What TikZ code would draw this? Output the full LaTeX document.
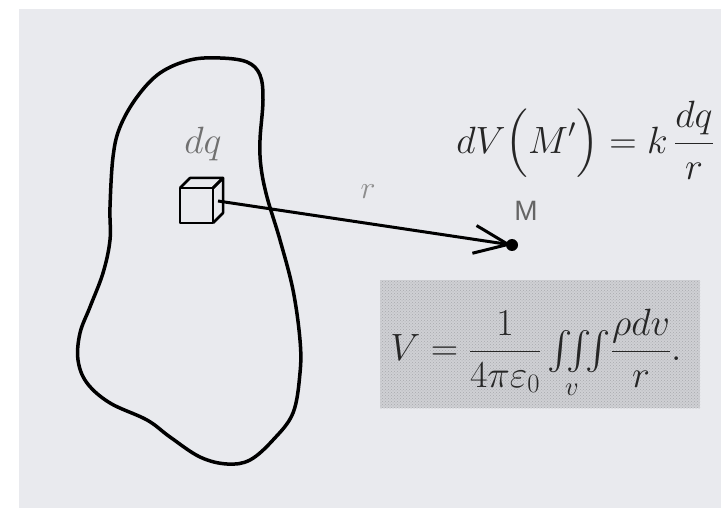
\RequirePackage{fix-cm}
\documentclass[tikz,border=0pt]{standalone}
\usepackage{amsmath}
\DeclareFontShape{OMX}{cmex}{m}{n}{<-> cmex10}{}
\usepackage{fontspec}
\setsansfont{Liberation Sans}
\usetikzlibrary{arrows.meta,patterns}
\definecolor{bgpaper}{HTML}{E9EAEE}
\definecolor{boxfill}{HTML}{CFD0D4}
\definecolor{dotcol}{HTML}{A8A9AD}
\definecolor{inkdark}{HTML}{262626}
\definecolor{inklabel}{HTML}{707070}
\tikzset{
  outline/.style={line width=3.5pt, line join=round},
  cubeline/.style={line width=2.5pt, line join=round},
  lbl/.style={inner sep=0pt, text=inklabel},
  eqn/.style={inner sep=0pt, text=inkdark},
}
\begin{document}
\begin{tikzpicture}[x=1pt,y=-1pt]
\useasboundingbox (0,0) rectangle (721,508);
\fill[white] (0,0) rectangle (721,508);
\fill[bgpaper] (19,9) rectangle (721,508);

% charge distribution outline
\draw[outline] plot[smooth cycle, tension=0.6] coordinates {
 (220,58) (247,62) (260,75) (263,100) (260,140) (261,167) (267,197)
 (280,240) (293,290) (300,340) (300,373) (293,413) (273,440) (250,460)
 (227,464) (200,457) (170,437) (147,420) (110,403) (87,383) (78,360)
 (80,333) (90,307) (103,273) (110,240) (110,207) (113,157) (120,127)
 (137,97) (160,73) (190,60)};

% volume element (cube)
\draw[cubeline, fill=bgpaper] (180,188) rectangle (213,223);
\draw[cubeline] (180,188) -- (190,178) -- (223,178) -- (213,188);
\draw[cubeline] (213,188) -- (223,178) -- (223,213) -- (213,223);
\coordinate (cubeR) at (218,201);

\node[lbl, font=\fontsize{38}{44}\selectfont] (dq) at (203,144) {$dq$};

% point M
\coordinate (Mpt) at (512,245);
\draw[line width=3pt, -{Straight Barb[length=34pt,width=28pt,line width=3pt]}] (cubeR) -- (Mpt);
\fill (Mpt) circle (6);
\node[lbl, text=inklabel!90!black, font=\sffamily\fontsize{28}{32}\selectfont] (M) at (526,211) {M};
\node[lbl, text=inklabel!80!white, font=\fontsize{32}{36}\selectfont] (r) at (368,192) {$r$};

% top formula
\node[eqn, font=\fontsize{38}{44}\selectfont] (eqtop) at (585,140)
  {$\displaystyle dV\Bigl(M'\Bigr)= k\,\frac{dq}{r}$};

% framed integral formula
\fill[boxfill] (380,280) rectangle (700,408);
\fill[pattern=crosshatch dots, pattern color=dotcol] (380,280) rectangle (700,408);
\node[eqn, font=\fontsize{38}{44}\selectfont] (eqbox) at (536,354)
  {$\displaystyle V=\frac{1}{4\pi\varepsilon_0}\,{\textstyle\iiint\limits_{v}}\frac{\rho dv}{r}.$};
\end{tikzpicture}
\end{document}
